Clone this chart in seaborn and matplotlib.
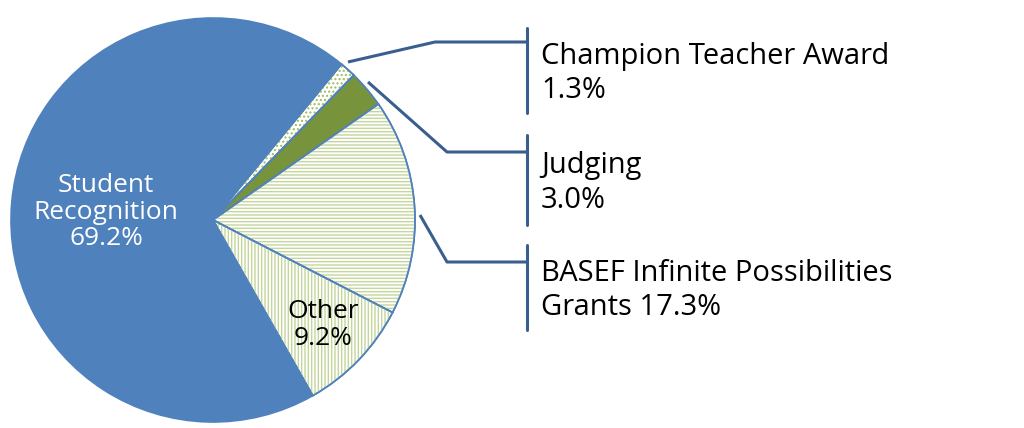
import matplotlib
matplotlib.use("Agg")
import matplotlib.pyplot as plt
import seaborn as sns
from matplotlib.patches import Wedge

sns.set_theme(style="white")

categories = ["Champion Teacher Award", "Judging", "BASEF Infinite Possibilities Grants", "Other", "Student Recognition"]
values = [1.3, 3.0, 17.3, 9.2, 69.2]
labels = ["Champion Teacher Award\n1.3%", "Judging\n3.0%", "BASEF Infinite Possibilities\nGrants 17.3%", "Other\n9.2%", "Student\nRecognition\n69.2%"]

fill = ["white", "#77933C", "white", "white", "#4F81BD"]
hatch = ["....", None, "-----", "|||||", None]
hcol = ["#9BBB59", None, "#C3D69B", "#C3D69B", None]

fig = plt.figure(figsize=(10.24, 4.28), dpi=100)
ax = fig.add_axes([0, 0, 1, 1])

H = 428
cx, cy, r = 213, H - 220, 202
wedges, _ = ax.pie(values, colors=fill, startangle=50.5, counterclock=False,
                   center=(cx, cy), radius=r, frame=True,
                   wedgeprops=dict(edgecolor="#4F81BD", linewidth=1.2))
ax.set_xlim(0, 1024); ax.set_ylim(0, 428); ax.set_aspect("equal"); ax.axis("off")
for w, h, hc in zip(wedges, hatch, hcol):
    if h:
        ax.add_patch(Wedge(w.center, w.r, w.theta1, w.theta2, facecolor="none",
                           edgecolor=hc, hatch=h, linewidth=0))
        ax.add_patch(Wedge(w.center, w.r, w.theta1, w.theta2, facecolor="none",
                           edgecolor="#4F81BD", linewidth=1.2))

font = "Open Sans"
ax.text(106, H - 212, labels[4], color="white", fontsize=19, ha="center", va="center",
        family=font, linespacing=1.1)
ax.text(323, H - 325, labels[3], color="black", fontsize=19, ha="center", va="center",
        family=font, linespacing=1.1)

lc = "#3A5F8F"
leaders = [[(348, 62), (435, 42), (527, 42)],
           [(368, 82), (447, 152), (527, 152)],
           [(420, 215), (447, 262), (527, 262)]]
bars = [(28, 113), (135, 225), (245, 330)]
for i, (pts, (y0, y1)) in enumerate(zip(leaders, bars)):
    xs = [p[0] for p in pts]; ys = [H - p[1] for p in pts]
    ax.plot(xs, ys, color=lc, lw=2.2, solid_capstyle="butt")
    ax.plot([527, 527], [H - y0, H - y1], color=lc, lw=2.2)
    ax.text(541, H - (y0 + y1) / 2 - 3, labels[i], fontsize=21, ha="left", va="center",
            family=font, linespacing=1.25, color="black")

fig.savefig("out.png", dpi=100)
